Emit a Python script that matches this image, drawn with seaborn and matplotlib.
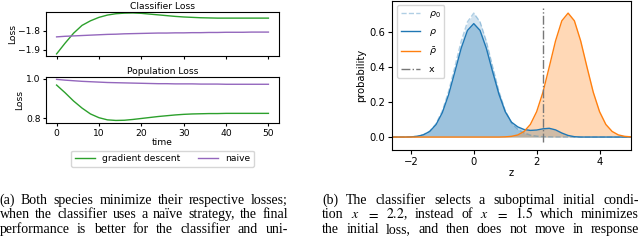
import re
import numpy as np
import pandas as pd
import matplotlib
matplotlib.use("Agg")
import matplotlib.pyplot as plt
import seaborn as sns

# --- loss curves ---
time = [0, 2, 4, 6, 8, 10, 12, 14, 16, 18, 20, 22, 24, 26, 28, 30, 32, 34, 36, 38, 40, 42, 44, 46, 48, 50]
clf_gd = [-1.921, -1.865, -1.813, -1.772, -1.748, -1.730, -1.718, -1.711, -1.708, -1.707, -1.709, -1.713,
          -1.717, -1.721, -1.725, -1.728, -1.730, -1.732, -1.733, -1.734, -1.734, -1.734, -1.734, -1.734,
          -1.734, -1.734]
clf_naive = [-1.832, -1.829, -1.827, -1.825, -1.823, -1.821, -1.819, -1.818, -1.816, -1.815, -1.814, -1.813,
             -1.812, -1.812, -1.811, -1.811, -1.810, -1.810, -1.809, -1.809, -1.808, -1.808, -1.808, -1.807,
             -1.807, -1.807]
pop_gd = [0.969, 0.930, 0.888, 0.852, 0.822, 0.803, 0.792, 0.789, 0.790, 0.794, 0.799, 0.804, 0.809, 0.813,
          0.817, 0.820, 0.822, 0.823, 0.824, 0.824, 0.825, 0.825, 0.825, 0.825, 0.825, 0.825]
pop_naive = [0.998, 0.994, 0.991, 0.988, 0.986, 0.984, 0.982, 0.981, 0.980, 0.979, 0.978, 0.977, 0.976, 0.976,
             0.975, 0.975, 0.975, 0.974, 0.974, 0.974, 0.973, 0.973, 0.973, 0.973, 0.973, 0.973]

# --- densities ---
z = [-2.6, -2.4, -2.2, -2.0, -1.8, -1.6, -1.4, -1.2, -1.0, -0.8, -0.6, -0.4, -0.2, 0.0, 0.2, 0.4, 0.6, 0.8,
     1.0, 1.2, 1.4, 1.6, 1.8, 2.0, 2.2, 2.4, 2.6, 2.8, 3.0, 3.2, 3.4, 3.6, 3.8, 4.0, 4.2, 4.4, 4.6, 4.8, 5.0]
rho0 = [0.0, 0.0, 0.0, 0.001, 0.005, 0.014, 0.034, 0.076, 0.150, 0.261, 0.402, 0.547, 0.658, 0.708, 0.658,
        0.547, 0.402, 0.261, 0.152, 0.080, 0.044, 0.024, 0.011, 0.005, 0.002, 0.001, 0.0, 0.0, 0.0, 0.0, 0.0,
        0.0, 0.0, 0.0, 0.0, 0.0, 0.0, 0.0, 0.0]
rho = [0.0, 0.0, 0.0, 0.001, 0.004, 0.013, 0.032, 0.071, 0.139, 0.242, 0.373, 0.507, 0.609, 0.648, 0.609,
       0.507, 0.373, 0.245, 0.145, 0.085, 0.058, 0.043, 0.038, 0.040, 0.047, 0.050, 0.041, 0.023, 0.009, 0.002,
       0.0, 0.0, 0.0, 0.0, 0.0, 0.0, 0.0, 0.0, 0.0]
rho_bar = [0.0, 0.0, 0.0, 0.0, 0.0, 0.0, 0.0, 0.0, 0.0, 0.0, 0.0, 0.0, 0.0, 0.0, 0.0, 0.0, 0.0, 0.0,
           0.001, 0.004, 0.012, 0.032, 0.072, 0.145, 0.256, 0.400, 0.549, 0.664, 0.708, 0.664, 0.549, 0.400,
           0.256, 0.145, 0.072, 0.032, 0.012, 0.004, 0.001]
x_choice = 2.2

caption_a = ["(a) Both species minimize their respective losses;",
             "when the classifier uses a naïve strategy, the final",
             "performance is better for the classifier and uni-"]
caption_b = ["(b) The classifier selects a suboptimal initial condi-",
             "tion $x$ $=$ $2.2$, instead of $x$ $=$ $1.5$ which minimizes",
             "the initial loss, and then does not move in response"]

W, H = 640, 240
fig = plt.figure(figsize=(6.4, 2.4), dpi=100)


def rect(x0, y0, x1, y1):
    return [x0 / W, 1 - y1 / H, (x1 - x0) / W, (y1 - y0) / H]


fs = 6.6
ax1 = fig.add_axes(rect(46, 12, 279, 56))
ax2 = fig.add_axes(rect(46, 77, 279, 123), sharex=ax1)
ax3 = fig.add_axes(rect(392, 0.5, 631, 150))

df_c = pd.DataFrame({"time": time * 2, "loss": clf_gd + clf_naive,
                     "method": ["gradient descent"] * len(time) + ["naive"] * len(time)})
df_p = pd.DataFrame({"time": time * 2, "loss": pop_gd + pop_naive,
                     "method": ["gradient descent"] * len(time) + ["naive"] * len(time)})
pal = {"gradient descent": "tab:green", "naive": "tab:purple"}

sns.lineplot(data=df_c, x="time", y="loss", hue="method", palette=pal, lw=1, ax=ax1, legend=False)
sns.lineplot(data=df_p, x="time", y="loss", hue="method", palette=pal, lw=1, ax=ax2)

ax1.set_title("Classifier Loss", fontsize=fs, pad=2)
ax2.set_title("Population Loss", fontsize=fs, pad=2)
ax1.set_ylim(-1.932, -1.702)
ax1.set_yticks([-1.8, -1.9])
ax2.set_ylim(0.776, 1.01)
ax2.set_yticks([0.8, 1.0])
ax1.tick_params(labelbottom=False, labelsize=fs, length=2.5, pad=1.5)
ax2.tick_params(labelsize=fs, length=2.5, pad=1.5)
ax1.set_xlabel("")
ax1.set_ylabel("Loss", fontsize=fs, labelpad=1)
ax2.set_ylabel("Loss", fontsize=fs, labelpad=1)
ax2.set_xlabel("time", fontsize=fs, labelpad=0)
ax2.set_xticks([0, 10, 20, 30, 40, 50])
ax2.legend(loc="upper center", bbox_to_anchor=(0.5, -0.5), ncol=2, fontsize=fs,
           frameon=True, columnspacing=2.0, handlelength=2.2, handletextpad=0.7, borderpad=0.4)

# --- right panel ---
df_d = pd.DataFrame({"z": z, "rho0": rho0, "rho": rho, "rho_bar": rho_bar})
blue, orange = "tab:blue", "tab:orange"
ax3.fill_between(z, rho0, color=blue, alpha=0.2, lw=0)
ax3.fill_between(z, rho, color=blue, alpha=0.3, lw=0)
ax3.fill_between(z, rho_bar, color=orange, alpha=0.3, lw=0)
sns.lineplot(data=df_d, x="z", y="rho0", ax=ax3, color=blue, alpha=0.35, lw=1, ls="--", label=r"$\rho_0$")
sns.lineplot(data=df_d, x="z", y="rho", ax=ax3, color=blue, lw=1, label=r"$\rho$")
sns.lineplot(data=df_d, x="z", y="rho_bar", ax=ax3, color=orange, lw=1, label=r"$\bar{\rho}$")
ax3.vlines(x_choice, -0.03, 0.74, colors="#777777", linestyles="-.", lw=1, label="x")
ax3.set_xlim(-2.6, 5.0)
ax3.set_ylim(-0.074, 0.78)
ax3.set_xticks([-2, 0, 2, 4])
ax3.set_yticks([0.0, 0.2, 0.4, 0.6])
ax3.tick_params(labelsize=7.2, length=3, pad=2)
ax3.set_xlabel("z", fontsize=7.2, labelpad=1)
ax3.set_ylabel("probability", fontsize=7.2, labelpad=2)
ax3.legend(loc="upper left", fontsize=6.8, handlelength=2.1, borderpad=0.4, labelspacing=0.75,
           handletextpad=0.9)

# --- captions, justified word by word ---
renderer = fig.canvas.get_renderer()


def justified(lines, x0, x1, y0, size=10.0):
    for i, line in enumerate(lines):
        words = line.split(" ")
        y = 1 - (y0 + 14.4 * i) / H
        texts = [fig.text(0, y, w, fontsize=size, family="Liberation Serif",
                          math_fontfamily="stix", va="baseline", ha="left") for w in words]
        widths = [t.get_window_extent(renderer).width for t in texts]
        gap = (x1 - x0 - sum(widths)) / (len(words) - 1)
        x = x0
        for t, w in zip(texts, widths):
            t.set_x(x / W)
            x += w + gap


justified(caption_a, -0.5, 288, 204)
justified(caption_b, 322, 639, 204)

fig.savefig("out.png", dpi=100)
